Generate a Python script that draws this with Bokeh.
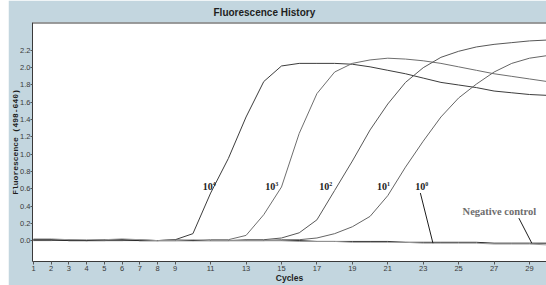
from bokeh.plotting import figure
from bokeh.models import FixedTicker, PrintfTickFormatter, Span, Range1d, Spacer
from bokeh.layouts import row
from bokeh.core.properties import value
from bokeh.embed import file_html
from bokeh.resources import INLINE

cycles = list(range(1, 31))
s_1e4 = [0.01, 0.01, 0.00, 0.00, 0.00, 0.01, 0.00, 0.00, 0.01, 0.08, 0.55, 0.95, 1.43, 1.84, 2.02,
         2.05, 2.05, 2.05, 2.04, 2.01, 1.97, 1.93, 1.88, 1.83, 1.80, 1.77, 1.73, 1.71, 1.69, 1.68]
s_1e3 = [0.01, 0.01, 0.00, 0.00, 0.01, 0.01, 0.00, 0.00, 0.00, 0.00, 0.01, 0.01, 0.06, 0.30, 0.62,
         1.24, 1.70, 1.95, 2.05, 2.09, 2.11, 2.10, 2.08, 2.05, 2.01, 1.97, 1.93, 1.90, 1.87, 1.84]
s_1e2 = [0.00, 0.01, 0.01, 0.00, 0.00, 0.00, 0.01, 0.00, 0.00, 0.00, 0.00, 0.00, 0.01, 0.01, 0.03,
         0.09, 0.24, 0.58, 0.92, 1.28, 1.58, 1.83, 2.00, 2.12, 2.19, 2.24, 2.27, 2.29, 2.31, 2.32]
s_1e1 = [0.00, 0.00, 0.01, 0.00, 0.00, 0.00, 0.00, 0.00, 0.01, 0.00, 0.00, 0.00, 0.00, 0.00, 0.01,
         0.01, 0.03, 0.08, 0.16, 0.28, 0.52, 0.85, 1.15, 1.43, 1.65, 1.81, 1.95, 2.05, 2.11, 2.14]
s_1e0 = [0.01, 0.01, 0.00, 0.00, 0.01, 0.01, 0.00, 0.00, 0.00, 0.00, 0.00, 0.00, 0.00, 0.00, 0.00,
         0.00, -0.01, -0.01, -0.01, -0.01, -0.01, -0.02, -0.02, -0.02, -0.02, -0.02, -0.03, -0.03, -0.03, -0.03]
s_neg = [0.02, 0.02, 0.01, 0.01, 0.01, 0.02, 0.01, 0.00, 0.00, 0.01, 0.00, 0.00, 0.00, 0.00, 0.00,
         -0.01, -0.01, -0.01, -0.02, -0.02, -0.02, -0.02, -0.03, -0.03, -0.03, -0.03, -0.04, -0.04, -0.04, -0.05]

series = [s_1e4, s_1e3, s_1e2, s_1e1, s_1e0, s_neg]
series_colors = ["#3c3c3c", "#6e6e6e", "#575757", "#656565", "#222222", "#9a9a9a"]

x_ticks = [1, 2, 3, 4, 5, 6, 7, 8, 9, 11, 13, 15, 17, 19, 21, 23, 25, 27, 29]
y_ticks = [0.0, 0.2, 0.4, 0.6, 0.8, 1.0, 1.2, 1.4, 1.6, 1.8, 2.0, 2.2]

title_text = "Fluorescence History"
x_title = "Cycles"
y_title = "Fluorescence (498-640)"

# dilution labels
label_cycle = [10.95, 14.48, 17.52, 20.78, 22.94]
label_level = [0.62, 0.62, 0.62, 0.62, 0.62]
label_base = ["10", "10", "10", "10", "10"]
label_exp = ["4", "3", "2", "1", "0"]

# pointers (10^0 and negative control)
ptr_x0 = [22.84, 28.40]
ptr_y0 = [0.55, 0.26]
ptr_x1 = [23.55, 29.13]
ptr_y1 = [-0.03, -0.03]
neg_cycle = [27.3]
neg_level = [0.34]
neg_text = ["Negative control"]

BG = "#c3d6df"
Y_TOP = 2.523

p = figure(width=538, height=285,
           x_range=Range1d(0.944, 29.96), y_range=Range1d(-0.242, Y_TOP),
           output_backend="svg", toolbar_location=None,
           min_border_left=23, min_border_right=0, min_border_top=22, min_border_bottom=23,
           background_fill_color="white", border_fill_color=BG,
           outline_line_color=None)

p.title.text = title_text
p.title.align = "left"
p.title.offset = 181
p.title.standoff = 9
p.title.text_font = "Liberation Sans"
p.title.text_font_style = "bold"
p.title.text_font_size = "10px"
p.title.text_color = "#1e1e1e"

p.xgrid.visible = False
p.ygrid.visible = False

for ax in (p.xaxis[0], p.yaxis[0]):
    ax.axis_line_color = "#3a3a3a"
    ax.major_tick_line_color = "#555555"
    ax.major_tick_in = 0
    ax.minor_tick_in = 0
    ax.minor_tick_out = 0
    ax.major_label_text_font = "Liberation Sans"
    ax.major_label_text_font_size = "7.5px"
    ax.major_label_text_color = "#3a3a3a"

p.xaxis.ticker = FixedTicker(ticks=x_ticks, minor_ticks=[])
p.xaxis.major_tick_out = 3
p.xaxis.major_label_standoff = 1
p.xaxis.axis_label = x_title
p.xaxis.axis_label_standoff = -1
p.xaxis.axis_label_text_font = "Liberation Sans"
p.xaxis.axis_label_text_font_style = "bold"
p.xaxis.axis_label_text_font_size = "8.5px"
p.xaxis.axis_label_text_color = "#1e1e1e"

p.yaxis.ticker = FixedTicker(ticks=y_ticks, minor_ticks=[])
p.yaxis.formatter = PrintfTickFormatter(format="%.1f")
p.yaxis.major_tick_out = 2
p.yaxis.major_label_standoff = 0
p.yaxis.axis_label = y_title
p.yaxis.axis_label_standoff = -3
p.yaxis.axis_label_text_font = "Liberation Mono"
p.yaxis.axis_label_text_font_style = "bold"
p.yaxis.axis_label_text_font_size = "8px"
p.yaxis.axis_label_text_color = "#1e1e1e"

p.add_layout(Span(location=Y_TOP, dimension="width", line_color="#3a3a3a", line_width=2))

for vals, col in zip(series, series_colors):
    p.line(cycles, vals, line_color=col, line_width=1)

p.segment(x0=ptr_x0, y0=ptr_y0, x1=ptr_x1, y1=ptr_y1, line_color="#1e1e1e", line_width=1)

p.text(x=label_cycle, y=label_level, text=label_base, x_offset=-2,
       text_font=value("Liberation Serif"), text_font_style="bold", text_font_size="10px",
       text_align="center", text_baseline="middle", text_color="#222222")
p.text(x=label_cycle, y=label_level, text=label_exp, x_offset=3, y_offset=-3,
       text_font=value("Liberation Serif"), text_font_style="bold", text_font_size="6px",
       text_align="left", text_baseline="middle", text_color="#222222")
p.text(x=neg_cycle, y=neg_level, text=neg_text,
       text_font=value("Liberation Serif"), text_font_style="bold", text_font_size="10.5px",
       text_align="center", text_baseline="middle", text_color="#6e6e6e")

layout = row(Spacer(width=8, height=285), p)

open("out.html", "w").write(file_html(layout, INLINE))
